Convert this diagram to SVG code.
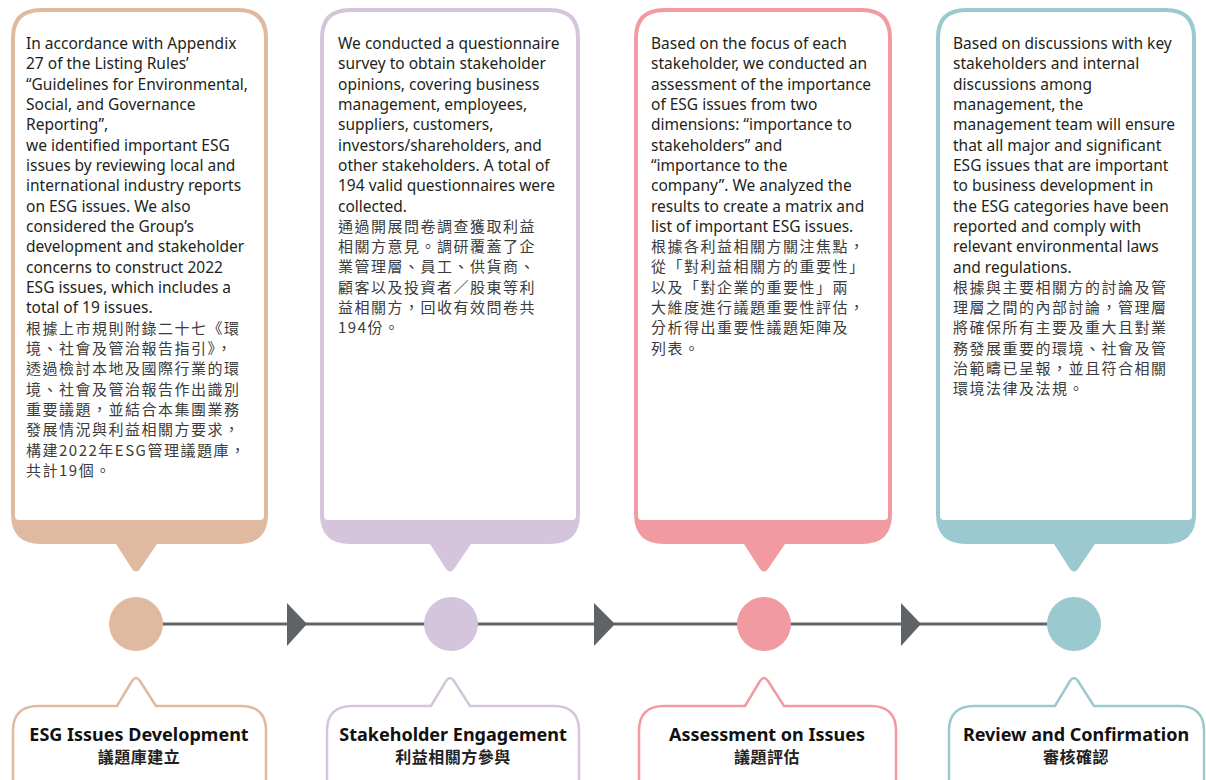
<svg xmlns="http://www.w3.org/2000/svg" width="1206" height="780" viewBox="0 0 1206 780">
  <style>
    .body { font-family: "Noto Sans", "Noto Sans CJK TC", sans-serif; font-size: 15.5px; fill: #231f20; }
    .cjk { font-family: "Noto Sans CJK TC", sans-serif; font-size: 15px; fill: #3c3c3c; letter-spacing: 1.5px; }
    .title { font-family: "Noto Sans", "Noto Sans CJK TC", sans-serif; font-size: 18px; font-weight: bold; fill: #111; text-anchor: middle; }
    .titlecjk { font-family: "Noto Sans CJK TC", sans-serif; font-size: 16px; font-weight: bold; fill: #222; text-anchor: middle; letter-spacing: 0.5px; }
    .lbl { fill: #fff; stroke-width: 2.5; }
    .line { stroke: #626568; stroke-width: 3; fill: none; }
    .arrow { fill: #606366; }
  </style>

  <!-- timeline connectors -->
  <g id="connectors">
    <line class="line" x1="136" y1="624" x2="1074" y2="624"/>
    <polygon class="arrow" points="287,603 307,624 287,646"/>
    <polygon class="arrow" points="594,603 615,624 594,646"/>
    <polygon class="arrow" points="901,603 921,624 901,646"/>
  </g>

  <!-- Step 1 -->
  <g id="step1">
    <path fill="#dfb9a0" d="M41,8 H238 Q268,8 268,38 V514 Q268,544 238,544 H157 L140,569 Q136,574 132,569 L116,544 H41 Q11,544 11,514 V38 Q11,8 41,8 Z"/>
    <path fill="#fff" d="M41,12 H238 Q264,12 264,38 V516 Q264,520 260,520 H19 Q15,520 15,516 V38 Q15,12 41,12 Z"/>
    <text class="body" x="26">
      <tspan x="26" y="49">In accordance with Appendix</tspan>
      <tspan x="26" dy="20.33">27 of the Listing Rules’</tspan>
      <tspan x="26" dy="20.33">“Guidelines for Environmental,</tspan>
      <tspan x="26" dy="20.33">Social, and Governance</tspan>
      <tspan x="26" dy="20.33">Reporting”,</tspan>
      <tspan x="26" dy="20.33">we identified important ESG</tspan>
      <tspan x="26" dy="20.33">issues by reviewing local and</tspan>
      <tspan x="26" dy="20.33">international industry reports</tspan>
      <tspan x="26" dy="20.33">on ESG issues. We also</tspan>
      <tspan x="26" dy="20.33">considered the Group’s</tspan>
      <tspan x="26" dy="20.33">development and stakeholder</tspan>
      <tspan x="26" dy="20.33">concerns to construct 2022</tspan>
      <tspan x="26" dy="20.33">ESG issues, which includes a</tspan>
      <tspan x="26" dy="20.33">total of 19 issues.</tspan>
    </text>
    <text class="cjk">
      <tspan x="26" y="333.6">根據上市規則附錄二十七《環</tspan>
      <tspan x="26" dy="20.33">境、社會及管治報告指引》，</tspan>
      <tspan x="26" dy="20.33">透過檢討本地及國際行業的環</tspan>
      <tspan x="26" dy="20.33">境、社會及管治報告作出識別</tspan>
      <tspan x="26" dy="20.33">重要議題，並結合本集團業務</tspan>
      <tspan x="26" dy="20.33">發展情況與利益相關方要求，</tspan>
      <tspan x="26" dy="20.33">構建2022年ESG管理議題庫，</tspan>
      <tspan x="26" dy="20.33">共計19個。</tspan>
    </text>
    <circle cx="136" cy="624" r="27" fill="#dfb9a0"/>
    <path class="lbl" stroke="#dfb9a0" d="M13,800 V731 Q13,706 38,706 H117 L132,681 Q136,675 140,681 L156,706 H241 Q266,706 266,731 V800"/>
    <text class="title" x="139" y="741">ESG Issues Development</text>
    <text class="titlecjk" x="139" y="763">議題庫建立</text>
  </g>

  <!-- Step 2 -->
  <g id="step2">
    <path fill="#d5c5dc" d="M350,8 H550 Q580,8 580,38 V514 Q580,544 550,544 H471 L454,569 Q450,574 446,569 L430,544 H350 Q320,544 320,514 V38 Q320,8 350,8 Z"/>
    <path fill="#fff" d="M350,12 H550 Q576,12 576,38 V516 Q576,520 572,520 H328 Q324,520 324,516 V38 Q324,12 350,12 Z"/>
    <text class="body">
      <tspan x="338" y="49">We conducted a questionnaire</tspan>
      <tspan x="338" dy="20.33">survey to obtain stakeholder</tspan>
      <tspan x="338" dy="20.33">opinions, covering business</tspan>
      <tspan x="338" dy="20.33">management, employees,</tspan>
      <tspan x="338" dy="20.33">suppliers, customers,</tspan>
      <tspan x="338" dy="20.33">investors/shareholders, and</tspan>
      <tspan x="338" dy="20.33">other stakeholders. A total of</tspan>
      <tspan x="338" dy="20.33">194 valid questionnaires were</tspan>
      <tspan x="338" dy="20.33">collected.</tspan>
    </text>
    <text class="cjk">
      <tspan x="338" y="231.6">通過開展問卷調查獲取利益</tspan>
      <tspan x="338" dy="20.33">相關方意見。調研覆蓋了企</tspan>
      <tspan x="338" dy="20.33">業管理層、員工、供貨商、</tspan>
      <tspan x="338" dy="20.33">顧客以及投資者／股東等利</tspan>
      <tspan x="338" dy="20.33">益相關方，回收有效問卷共</tspan>
      <tspan x="338" dy="20.33">194份。</tspan>
    </text>
    <circle cx="451" cy="624" r="27" fill="#d5c5dc"/>
    <path class="lbl" stroke="#d5c5dc" d="M327,800 V731 Q327,706 352,706 H431 L446,681 Q450,675 454,681 L470,706 H554 Q579,706 579,731 V800"/>
    <text class="title" x="453" y="741">Stakeholder Engagement</text>
    <text class="titlecjk" x="453" y="763">利益相關方參與</text>
  </g>

  <!-- Step 3 -->
  <g id="step3">
    <path fill="#f29aa2" d="M664,8 H862 Q892,8 892,38 V514 Q892,544 862,544 H785 L768,569 Q764,574 760,569 L744,544 H664 Q634,544 634,514 V38 Q634,8 664,8 Z"/>
    <path fill="#fff" d="M664,12 H862 Q888,12 888,38 V516 Q888,520 884,520 H642 Q638,520 638,516 V38 Q638,12 664,12 Z"/>
    <text class="body">
      <tspan x="651" y="49">Based on the focus of each</tspan>
      <tspan x="651" dy="20.33">stakeholder, we conducted an</tspan>
      <tspan x="651" dy="20.33">assessment of the importance</tspan>
      <tspan x="651" dy="20.33">of ESG issues from two</tspan>
      <tspan x="651" dy="20.33">dimensions: “importance to</tspan>
      <tspan x="651" dy="20.33">stakeholders” and</tspan>
      <tspan x="651" dy="20.33">“importance to the</tspan>
      <tspan x="651" dy="20.33">company”. We analyzed the</tspan>
      <tspan x="651" dy="20.33">results to create a matrix and</tspan>
      <tspan x="651" dy="20.33">list of important ESG issues.</tspan>
    </text>
    <text class="cjk">
      <tspan x="651" y="252">根據各利益相關方關注焦點，</tspan>
      <tspan x="651" dy="20.33">從「對利益相關方的重要性」</tspan>
      <tspan x="651" dy="20.33">以及「對企業的重要性」兩</tspan>
      <tspan x="651" dy="20.33">大維度進行議題重要性評估，</tspan>
      <tspan x="651" dy="20.33">分析得出重要性議題矩陣及</tspan>
      <tspan x="651" dy="20.33">列表。</tspan>
    </text>
    <circle cx="764" cy="624" r="27" fill="#f29aa2"/>
    <path class="lbl" stroke="#f29aa2" d="M639,800 V731 Q639,706 664,706 H745 L760,681 Q764,675 768,681 L784,706 H871 Q896,706 896,731 V800"/>
    <text class="title" x="767" y="741">Assessment on Issues</text>
    <text class="titlecjk" x="767" y="763">議題評估</text>
  </g>

  <!-- Step 4 -->
  <g id="step4">
    <path fill="#9ac9cf" d="M966,8 H1166 Q1196,8 1196,38 V514 Q1196,544 1166,544 H1095 L1078,569 Q1074,574 1070,569 L1054,544 H966 Q936,544 936,514 V38 Q936,8 966,8 Z"/>
    <path fill="#fff" d="M966,12 H1166 Q1192,12 1192,38 V516 Q1192,520 1188,520 H944 Q940,520 940,516 V38 Q940,12 966,12 Z"/>
    <text class="body">
      <tspan x="953" y="49">Based on discussions with key</tspan>
      <tspan x="953" dy="20.33">stakeholders and internal</tspan>
      <tspan x="953" dy="20.33">discussions among</tspan>
      <tspan x="953" dy="20.33">management, the</tspan>
      <tspan x="953" dy="20.33">management team will ensure</tspan>
      <tspan x="953" dy="20.33">that all major and significant</tspan>
      <tspan x="953" dy="20.33">ESG issues that are important</tspan>
      <tspan x="953" dy="20.33">to business development in</tspan>
      <tspan x="953" dy="20.33">the ESG categories have been</tspan>
      <tspan x="953" dy="20.33">reported and comply with</tspan>
      <tspan x="953" dy="20.33">relevant environmental laws</tspan>
      <tspan x="953" dy="20.33">and regulations.</tspan>
    </text>
    <text class="cjk">
      <tspan x="953" y="292.6">根據與主要相關方的討論及管</tspan>
      <tspan x="953" dy="20.33">理層之間的內部討論，管理層</tspan>
      <tspan x="953" dy="20.33">將確保所有主要及重大且對業</tspan>
      <tspan x="953" dy="20.33">務發展重要的環境、社會及管</tspan>
      <tspan x="953" dy="20.33">治範疇已呈報，並且符合相關</tspan>
      <tspan x="953" dy="20.33">環境法律及法規。</tspan>
    </text>
    <circle cx="1074" cy="624" r="27" fill="#9ac9cf"/>
    <path class="lbl" stroke="#9ac9cf" d="M949,800 V731 Q949,706 974,706 H1055 L1070,681 Q1074,675 1078,681 L1094,706 H1179 Q1204,706 1204,731 V800"/>
    <text class="title" x="1076" y="741">Review and Confirmation</text>
    <text class="titlecjk" x="1076" y="763">審核確認</text>
  </g>
</svg>
